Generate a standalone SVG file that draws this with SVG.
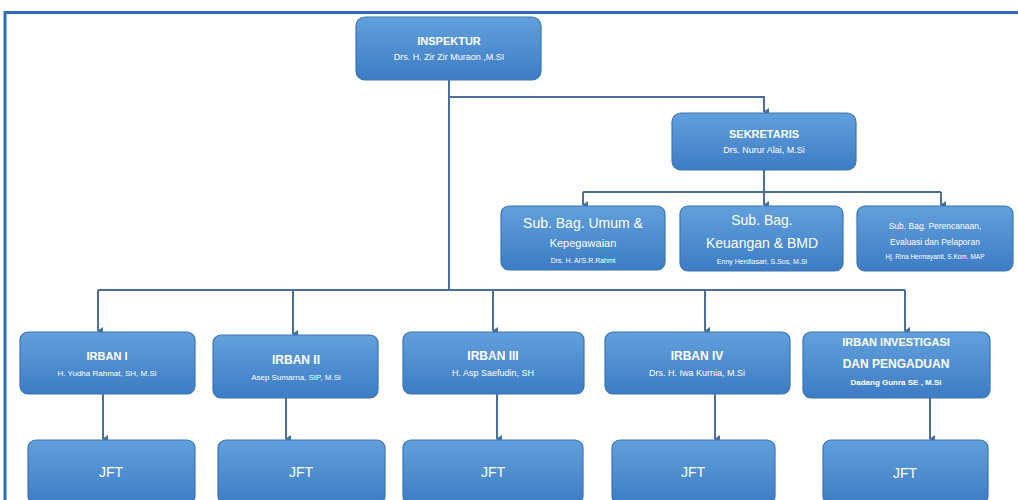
<svg xmlns="http://www.w3.org/2000/svg" width="1018" height="500" viewBox="0 0 1018 500">
<defs>
<linearGradient id="g" x1="0" y1="0" x2="0" y2="1">
<stop offset="0" stop-color="#62a0dc"/>
<stop offset="1" stop-color="#3d7cc4"/>
</linearGradient>
<marker id="ar" markerWidth="8" markerHeight="8" refX="4" refY="6" orient="auto-start-reverse" markerUnits="userSpaceOnUse" viewBox="0 0 8 8">
<path d="M0,1 L8,1 L4,7 Z" fill="#4a6f98"/>
</marker>
<style>
.box{fill:url(#g);stroke:#3a74b5;stroke-width:1.2}
.t{font-family:"Liberation Sans",Arial,sans-serif;fill:#fff;text-anchor:middle}
.h{font-size:11px;font-weight:bold}
.s{font-size:9px}
.b{font-size:14px}
.j{font-size:14px}
.c{fill:none;stroke:#4a6f98;stroke-width:2}
.ca{fill:none;stroke:#4a6f98;stroke-width:2;marker-end:url(#ar)}
</style>
</defs>
<rect x="0" y="0" width="1018" height="500" fill="#fff"/>
<path d="M5,500 V12.5 H1018" fill="none" stroke="#2e6cb5" stroke-width="3"/>
<g id="connectors">
<path class="c" d="M449,80 V290"/>
<path class="ca" d="M449,97 H764 V112"/>
<path class="c" d="M764,170 V192"/>
<path class="c" d="M583,192 H941"/>
<path class="ca" d="M583,192 V205"/>
<path class="ca" d="M764,170 V205"/>
<path class="ca" d="M941,192 V205"/>
<path class="c" d="M98,290 H905"/>
<path class="ca" d="M98,290 V331"/>
<path class="ca" d="M293,290 V334"/>
<path class="ca" d="M493,290 V331"/>
<path class="ca" d="M705,290 V331"/>
<path class="ca" d="M905,290 V331"/>
<path class="ca" d="M103,394 V439"/>
<path class="ca" d="M286,398 V439"/>
<path class="ca" d="M497,394 V439"/>
<path class="ca" d="M715,394 V439"/>
<path class="ca" d="M930,398 V439"/>
</g>
<g id="inspektur">
<rect class="box" x="356" y="17" width="185" height="63" rx="9"/>
<text class="t h" x="449" y="45">INSPEKTUR</text>
<text class="t s" x="449" y="60">Drs. H. Zir Zir Muraon ,M.SI</text>
</g>
<g id="sekretaris">
<rect class="box" x="672" y="113" width="184" height="57" rx="9"/>
<text class="t h" x="764" y="138">SEKRETARIS</text>
<text class="t s" x="764" y="153">Drs. Nurur Alai, M.Si</text>
</g>
<g id="subbag-umum">
<rect class="box" x="501" y="206" width="164" height="64" rx="8"/>
<text class="t b" x="583" y="228">Sub. Bag. Umum &amp;</text>
<text class="t s" x="583" y="247" style="font-size:11px">Kepegawaian</text>
<text class="t s" x="583" y="263" style="font-size:7px">Drs. H. Ai'S.R.Rahmi</text>
</g>
<g id="subbag-keuangan">
<rect class="box" x="680" y="206" width="163" height="65" rx="8"/>
<text class="t b" x="762" y="225">Sub. Bag.</text>
<text class="t b" x="762" y="248">Keuangan &amp; BMD</text>
<text class="t s" x="762" y="264" style="font-size:7px">Enny Herdiasari, S.Sos, M.Si</text>
</g>
<g id="subbag-perencanaan">
<rect class="box" x="857" y="206" width="156" height="65" rx="8"/>
<text class="t s" x="935" y="229" style="font-size:8.5px">Sub. Bag. Perencanaan,</text>
<text class="t s" x="935" y="245" style="font-size:8.5px">Evaluasi dan Pelaporan</text>
<text class="t s" x="935" y="259" style="font-size:6.5px">Hj. Rina Hermayanti, S.Kom. MAP</text>
</g>
<g id="irban1">
<rect class="box" x="20" y="332" width="175" height="62" rx="8"/>
<text class="t h" x="107" y="360">IRBAN I</text>
<text class="t s" x="107" y="376" style="font-size:8px">H. Yudha Rahmat, SH, M.Si</text>
</g>
<g id="irban2">
<rect class="box" x="213" y="335" width="165" height="63" rx="8"/>
<text class="t h" x="296" y="364" style="font-size:12px">IRBAN II</text>
<text class="t s" x="296" y="380" style="font-size:8px">Asep Sumarna, SIP, M.Si</text>
</g>
<g id="irban3">
<rect class="box" x="403" y="332" width="181" height="62" rx="8"/>
<text class="t h" x="493" y="360" style="font-size:12px">IRBAN III</text>
<text class="t s" x="493" y="376">H. Asp Saefudin, SH</text>
</g>
<g id="irban4">
<rect class="box" x="605" y="332" width="185" height="62" rx="8"/>
<text class="t h" x="697" y="360" style="font-size:12px">IRBAN IV</text>
<text class="t s" x="697" y="376">Drs. H. Iwa Kurnia, M.Si</text>
</g>
<g id="irban-investigasi">
<rect class="box" x="803" y="332" width="187" height="66" rx="8"/>
<text class="t h" x="896" y="346">IRBAN INVESTIGASI</text>
<text class="t h" x="896" y="368" style="font-size:12px">DAN PENGADUAN</text>
<text class="t s" x="896" y="385" style="font-size:8px;font-weight:bold">Dadang Gunra SE , M.Si</text>
</g>
<g id="jft1">
<rect class="box" x="28" y="440" width="167" height="64" rx="8"/>
<text class="t j" x="111" y="477">JFT</text>
</g>
<g id="jft2">
<rect class="box" x="218" y="440" width="167" height="64" rx="8"/>
<text class="t j" x="301" y="477">JFT</text>
</g>
<g id="jft3">
<rect class="box" x="403" y="440" width="180" height="64" rx="8"/>
<text class="t j" x="493" y="477">JFT</text>
</g>
<g id="jft4">
<rect class="box" x="612" y="440" width="163" height="64" rx="8"/>
<text class="t j" x="693" y="477">JFT</text>
</g>
<g id="jft5">
<rect class="box" x="823" y="440" width="165" height="64" rx="8"/>
<text class="t j" x="905" y="478">JFT</text>
</g>
</svg>
